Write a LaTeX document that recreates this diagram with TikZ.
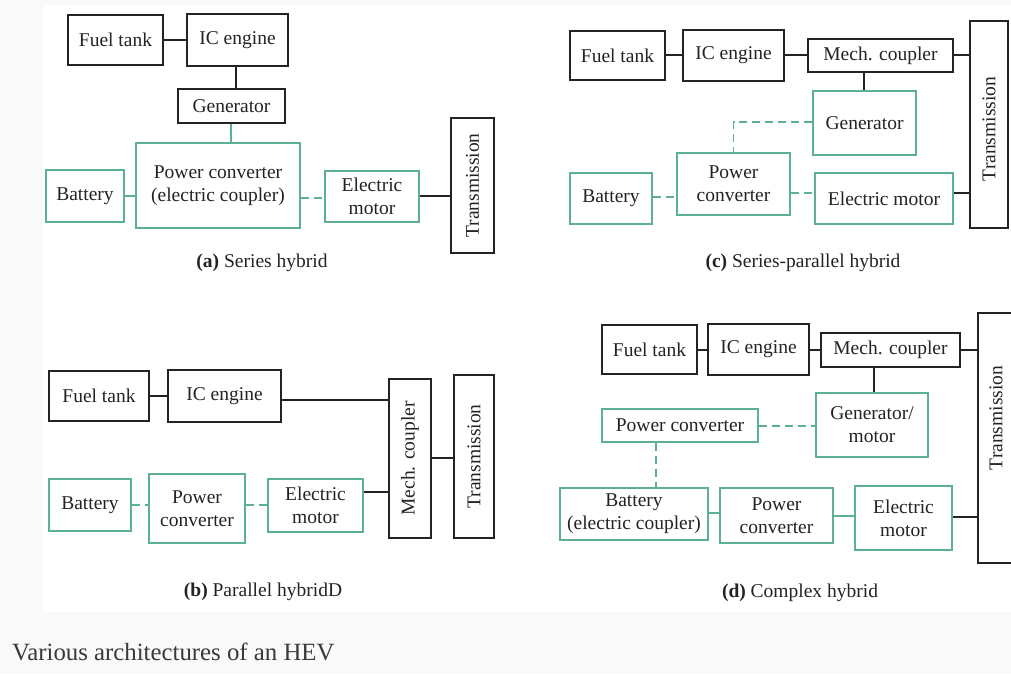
\documentclass[tikz,border=0pt]{standalone}
\usepackage{fontspec}
\setmainfont{Liberation Serif}
\definecolor{hevgreen}{RGB}{92,176,150}
\definecolor{ink}{RGB}{35,35,35}
\definecolor{pagebg}{RGB}{249,249,249}
\newcommand\hevbox[7]{%
  \node[#2, minimum width={#5-#3}, minimum height={#6-#4}] (#1) at ({(#3+#5)/2},{(#4+#6)/2}) {#7};}
\begin{document}
\begin{tikzpicture}[x=1pt,y=-1pt,
  boxbase/.style={rectangle, inner sep=0pt, line width=1.7pt, align=center, text=ink,
    font=\fontsize{19.5}{23}\selectfont},
  blk/.style={boxbase, draw=ink},
  grn/.style={boxbase, draw=hevgreen},
  blkline/.style={draw=ink, line width=1.7pt},
  grnline/.style={draw=hevgreen, line width=1.7pt},
  grndash/.style={draw=hevgreen, line width=1.7pt, dash pattern=on 8pt off 5pt},
  captxt/.style={text=ink, font=\fontsize{19.5}{23}\selectfont, inner sep=0pt},
  rottxt/.style={text=ink, font=\fontsize{19.5}{23}\selectfont, inner sep=0pt, rotate=90}]
\useasboundingbox (0,0) rectangle (1011,673);
\fill[pagebg] (0,0) rectangle (1011,673);
\fill[white] (43,5) rectangle (1011,612);

% ---------- (a) Series hybrid ----------
\hevbox{a-ft}{blk}{68}{15}{163}{65}{Fuel tank}
\hevbox{a-ice}{blk}{187}{14}{288}{66}{IC engine}
\hevbox{a-gen}{blk}{178}{89}{285}{123}{Generator}
\hevbox{a-pc}{grn}{136}{143}{300}{228}{Power converter\\(electric coupler)}
\hevbox{a-bat}{grn}{46}{170}{124}{222}{Battery}
\hevbox{a-em}{grn}{325}{171}{419}{222}{Electric\\motor}
\hevbox{a-tr}{blk}{451}{118}{494}{253}{}
\node[rottxt] (a-trt) at (a-tr) {Transmission};
\draw[blkline] (a-ft.east |- 0,40) -- (a-ice.west |- 0,40);
\draw[blkline] (a-ice.south -| 236,0) -- (a-gen.north -| 236,0);
\draw[grnline] (a-gen.south -| 231,0) -- (a-pc.north -| 231,0);
\draw[grnline] (a-bat.east |- 0,196) -- (a-pc.west |- 0,196);
\draw[grndash] (a-pc.east |- 0,198) -- (a-em.west |- 0,198);
\draw[blkline] (a-em.east |- 0,196) -- (a-tr.west |- 0,196);
\node[captxt] (a-cap) at (262,263) {\textbf{(a)} Series hybrid};

% ---------- (c) Series-parallel hybrid ----------
\hevbox{c-ft}{blk}{570}{31}{665}{80}{Fuel tank}
\hevbox{c-ice}{blk}{683}{30}{784}{81}{IC engine}
\hevbox{c-mc}{blk}{808}{39}{953}{72}{Mech. coupler}
\hevbox{c-tr}{blk}{970}{21}{1008}{228}{}
\node[rottxt] (c-trt) at (989,129) {Transmission};
\hevbox{c-gen}{grn}{813}{91}{916}{155}{Generator}
\hevbox{c-pc}{grn}{677}{153}{790}{215}{Power\\converter}
\hevbox{c-bat}{grn}{570}{173}{652}{224}{Battery}
\hevbox{c-em}{grn}{815}{173}{953}{224}{Electric motor}
\draw[blkline] (c-ft.east |- 0,55) -- (c-ice.west |- 0,55);
\draw[blkline] (c-ice.east |- 0,55) -- (c-mc.west |- 0,55);
\draw[blkline] (c-mc.east |- 0,55) -- (c-tr.west |- 0,55);
\draw[blkline] (c-mc.south -| 864,0) -- (c-gen.north -| 864,0);
\draw[grndash] (c-gen.west |- 0,122) -| (c-pc.north);
\draw[grndash] (c-bat.east |- 0,197) -- (c-pc.west |- 0,197);
\draw[grndash] (c-pc.east |- 0,193) -- (c-em.west |- 0,193);
\draw[blkline] (c-em.east |- 0,193) -- (c-tr.west |- 0,193);
\node[captxt] (c-cap) at (803,263) {\textbf{(c)} Series-parallel hybrid};

% ---------- (b) Parallel hybrid ----------
\hevbox{b-ft}{blk}{49}{371}{149}{421}{Fuel tank}
\hevbox{b-ice}{blk}{168}{370}{281}{422}{IC engine}
\hevbox{b-mc}{blk}{389}{379}{431}{538}{}
\node[rottxt] (b-mct) at (b-mc) {Mech. coupler};
\hevbox{b-tr}{blk}{454}{375}{494}{538}{}
\node[rottxt] (b-trt) at (b-tr) {Transmission};
\hevbox{b-bat}{grn}{49}{479}{131}{531}{Battery}
\hevbox{b-pc}{grn}{149}{474}{245}{543}{Power\\converter}
\hevbox{b-em}{grn}{268}{479}{363}{532}{Electric\\motor}
\draw[blkline] (b-ft.east |- 0,396) -- (b-ice.west |- 0,396);
\draw[blkline] (b-ice.east |- 0,400) -- (b-mc.west |- 0,400);
\draw[blkline] (b-mc.east |- 0,458) -- (b-tr.west |- 0,458);
\draw[grndash] (b-bat.east |- 0,505) -- (b-pc.west |- 0,505);
\draw[grndash] (b-pc.east |- 0,505) -- (b-em.west |- 0,505);
\draw[blkline] (b-em.east |- 0,492) -- (b-mc.west |- 0,492);
\node[captxt] (b-cap) at (263,592) {\textbf{(b)} Parallel hybridD};

% ---------- (d) Complex hybrid ----------
\hevbox{d-ft}{blk}{602}{325}{697}{374}{Fuel tank}
\hevbox{d-ice}{blk}{708}{324}{809}{375}{IC engine}
\hevbox{d-mc}{blk}{821}{333}{960}{367}{Mech. coupler}
\hevbox{d-tr}{blk}{978}{313}{1018}{563}{}
\node[rottxt] (d-trt) at (996,418) {Transmission};
\hevbox{d-gm}{grn}{816}{393}{928}{457}{Generator/\\motor}
\hevbox{d-pc1}{grn}{602}{409}{758}{442}{Power converter}
\hevbox{d-bat}{grn}{560}{488}{708}{540}{Battery\\(electric coupler)}
\hevbox{d-pc2}{grn}{720}{488}{833}{543}{Power\\converter}
\hevbox{d-em}{grn}{855}{486}{952}{550}{Electric\\motor}
\draw[blkline] (d-ft.east |- 0,350) -- (d-ice.west |- 0,350);
\draw[blkline] (d-ice.east |- 0,350) -- (d-mc.west |- 0,350);
\draw[blkline] (d-mc.east |- 0,350) -- (d-tr.west |- 0,350);
\draw[blkline] (d-mc.south -| 874,0) -- (d-gm.north -| 874,0);
\draw[grndash] (d-pc1.east |- 0,426) -- (d-gm.west |- 0,426);
\draw[grndash] (d-pc1.south -| 656,0) -- (d-bat.north -| 656,0);
\draw[grnline] (d-bat.east |- 0,513) -- (d-pc2.west |- 0,513);
\draw[grnline] (d-pc2.east |- 0,516) -- (d-em.west |- 0,516);
\draw[blkline] (d-em.east |- 0,517) -- (d-tr.west |- 0,517);
\node[captxt] (d-cap) at (800,593) {\textbf{(d)} Complex hybrid};

% ---------- figure caption ----------
\node[anchor=west, inner sep=0pt, text=ink!90, font=\fontsize{24.8}{28}\selectfont] (figcap) at (12,652) {Various architectures of an HEV};
\end{tikzpicture}
\end{document}
